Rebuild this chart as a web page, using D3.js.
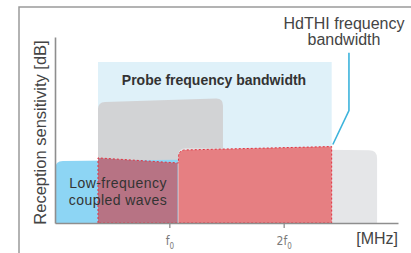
<!DOCTYPE html>
<html><head><meta charset="utf-8">
<script src="https://cdn.jsdelivr.net/npm/d3@7"></script>
<style>
html,body{margin:0;padding:0;background:#fff;}
svg{display:block;font-family:"Liberation Sans",Arial,Helvetica,sans-serif;}
</style></head>
<body>
<svg id="chart" width="411" height="253"></svg>
<script>
// ---- data (x in multiples of f0, y in relative sensitivity units) ----
const xTicks = [1, 2];
const xTickLabels = [["f", "0"], ["2f", "0"]];
const xUnit = "[MHz]";
const yTitle = "Reception sensitivity [dB]";
// bands: [xStart, xEnd, topAtStart, topAtEnd]
const probeBand = [0.376, 2.42, 86.6, 86.6];
const fundamentalBand = [0.376, 1.469, 65.0, 67.0];
const harmonicBand = [1.08, 2.817, 40.3, 39.0];
const lowFreqBand = [0.0, 1.075, 33.3, 34.0];
const hdthiLow = [0.376, 1.072, 35.0, 32.3];
const hdthiHigh = [1.08, 2.42, 39.2, 41.1];
const leaderPts = [[2.571, 91.5], [2.571, 60.5], [2.43, 42.2]];
const labels = {
  probe: "Probe frequency bandwidth",
  low: ["Low-frequency", "coupled waves"],
  hdthi: ["HdTHI frequency", "bandwidth"]
};

const svg = d3.select("#chart");
const x = d3.scaleLinear().domain([0, 3]).range([55, 398]);
const y = d3.scaleLinear().domain([0, 100]).range([223, 37]);

// frame
svg.append("path").attr("d", "M19,253 L19,7 L411,7")
  .attr("fill", "none").attr("stroke", "#9a9a9a").attr("stroke-width", 1.5);

function bandPath(b, rL, rR) {
  const x0 = x(b[0]), x1 = x(b[1]), y0 = y(b[2]), y1 = y(b[3]), yb = y(0);
  const slope = (y1 - y0) / (x1 - x0);
  const p = d3.path();
  p.moveTo(x0, yb);
  if (rL > 0) {
    p.lineTo(x0, y0 + rL);
    p.quadraticCurveTo(x0, y0, x0 + rL, y0 + slope * rL);
  } else p.lineTo(x0, y0);
  if (rR > 0) {
    p.lineTo(x1 - rR, y1 - slope * rR);
    p.quadraticCurveTo(x1, y1, x1, y1 + rR);
  } else p.lineTo(x1, y1);
  p.lineTo(x1, yb);
  p.closePath();
  return p.toString();
}

svg.append("path").attr("d", bandPath(probeBand, 0, 0)).attr("fill", "#dff1f9");
svg.append("path").attr("d", bandPath(fundamentalBand, 7, 7)).attr("fill", "#d2d3d5");
svg.append("path").attr("d", bandPath(harmonicBand, 7, 8)).attr("fill", "#e5e6e8");
svg.append("path").attr("d", bandPath(lowFreqBand, 8, 0)).attr("fill", "#8dd5f4");
svg.append("path").attr("d", bandPath(hdthiLow, 0, 0)).attr("fill", "#b77384");
svg.append("path").attr("d", bandPath(hdthiHigh, 7, 0)).attr("fill", "#e67f82");

// dashed outline of the HdTHI region
(function () {
  const r = 7, yb = y(0);
  const a0 = x(hdthiLow[0]), a1 = x(hdthiLow[1]);
  const b0 = x(hdthiHigh[0]), b1 = x(hdthiHigh[1]);
  const ya0 = y(hdthiLow[2]), ya1 = y(hdthiLow[3]);
  const yh0 = y(hdthiHigh[2]), yh1 = y(hdthiHigh[3]);
  const slope = (yh1 - yh0) / (b1 - b0);
  const p = d3.path();
  p.moveTo(a0, yb);
  p.lineTo(a0, ya0);
  p.lineTo(a1, ya1);
  p.lineTo(b0, ya1);
  p.lineTo(b0, yh0 + r);
  p.quadraticCurveTo(b0, yh0, b0 + r, yh0 + slope * r);
  p.lineTo(b1, yh1);
  p.lineTo(b1, yb);
  p.closePath();
  svg.append("path").attr("d", p.toString()).attr("fill", "none")
    .attr("stroke", "#e2313f").attr("stroke-width", 1).attr("stroke-dasharray", "2,2");
})();

// axes
const gx = svg.append("g").attr("transform", `translate(0,${y(0)})`)
  .call(d3.axisBottom(x).tickValues(xTicks).tickSize(5).tickSizeOuter(0).tickFormat(""));
gx.select(".domain").attr("stroke", "#8e8e8e").attr("stroke-width", 1.6);
gx.selectAll(".tick line").attr("stroke", "#8e8e8e").attr("stroke-width", 1.3);
gx.selectAll(".tick").each(function (d, i) {
  const t = d3.select(this).append("text")
    .attr("y", 22).attr("fill", "#7a7a7a").attr("text-anchor", "middle")
    .style("font-family", "'Liberation Sans Narrow','DejaVu Sans Condensed',sans-serif")
    .style("font-size", "12px");
  t.append("tspan").text(xTickLabels[i][0]);
  t.append("tspan").attr("dy", 4).style("font-size", "8px").text(xTickLabels[i][1]);
});
const gy = svg.append("g").attr("transform", `translate(${x(0)},0)`)
  .call(d3.axisLeft(y).tickValues([]).tickSizeOuter(0));
gy.select(".domain").attr("stroke", "#8e8e8e").attr("stroke-width", 1.6);

svg.append("text").attr("x", 398).attr("y", 244).attr("text-anchor", "end")
  .attr("fill", "#444").style("font-size", "16px").text(xUnit);
svg.append("text").attr("transform", `translate(46,${(38 + 227) / 2}) rotate(-90)`)
  .attr("text-anchor", "middle").attr("fill", "#444").style("font-size", "16.5px").text(yTitle);

// leader line
svg.append("path").attr("d", d3.line().x(d => x(d[0])).y(d => y(d[1]))(leaderPts))
  .attr("fill", "none").attr("stroke", "#3db4dc").attr("stroke-width", 1.6);

// labels
svg.append("text").attr("x", 214).attr("y", 85).attr("text-anchor", "middle")
  .attr("fill", "#333").style("font-size", "14px").style("font-weight", "bold").text(labels.probe);
labels.low.forEach((s, i) => svg.append("text").attr("x", 118).attr("y", 188 + i * 16.5)
  .attr("text-anchor", "middle").attr("fill", "#333").style("font-size", "14px")
  .style("letter-spacing", "0.45px").text(s));
labels.hdthi.forEach((s, i) => svg.append("text").attr("x", 344).attr("y", 29 + i * 16)
  .attr("text-anchor", "middle").attr("fill", "#444").style("font-size", "16px").text(s));
</script>
</body></html>
